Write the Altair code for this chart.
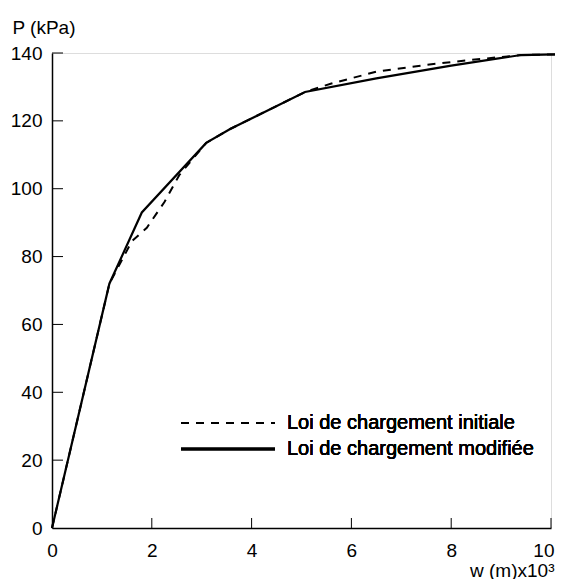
import altair as alt
import pandas as pd

# ---- data ----
series_names = ["Loi de chargement initiale", "Loi de chargement modifiée"]

w_initiale = [0, 1.15, 1.6, 1.9, 2.25, 2.55, 3.09, 3.57, 5.07, 5.6, 6.5, 7.5, 8.3, 9.4, 10.2]
p_initiale = [0, 72, 84.5, 88.5, 96, 104, 113.5, 117.6, 128.5, 131, 134.5, 136.5, 137.8, 139.4, 139.6]

w_modifiee = [0, 1.15, 1.8, 3.09, 3.57, 5.07, 6.5, 8.0, 9.4, 10.2]
p_modifiee = [0, 72, 93, 113.5, 117.6, 128.5, 132.5, 136.3, 139.4, 139.6]

x_ticks = [0, 2, 4, 6, 8, 10]
y_ticks = [0, 20, 40, 60, 80, 100, 120, 140]

x_title = "w (m)x10³"
y_title = "P (kPa)"

FONT = "Liberation Sans"
W, H = 499, 475

df_init = pd.DataFrame({"w": w_initiale, "P": p_initiale})
df_mod = pd.DataFrame({"w": w_modifiee, "P": p_modifiee})
df_xt = pd.DataFrame({"w": x_ticks[1:]})
df_yt = pd.DataFrame({"P": y_ticks[1:]})

xscale = alt.Scale(domain=[0, 10], nice=False, zero=False)
yscale = alt.Scale(domain=[0, 140], nice=False, zero=False)

last_x = "datum.value == 10"
xaxis = alt.Axis(
    values=x_ticks, ticks=False, tickSize=0, grid=False, title=x_title,
    labelFont=FONT, labelFontSize=19, labelColor="black", labelPadding=13,
    labelFlush=False,
    labelAlign={"condition": {"test": last_x, "value": "right"}, "value": "center"},
    labelOffset={"condition": {"test": last_x, "value": 3}, "value": 0},
    domainColor="black", domainWidth=1.5,
    titleFont=FONT, titleFontSize=19, titleFontWeight="normal", titleColor="black",
    titleAnchor="start", titleAlign="right", titleBaseline="alphabetic",
    titleX=502, titleY=48,
)
yaxis = alt.Axis(
    values=y_ticks, ticks=False, tickSize=0, grid=False, title=y_title,
    labelFont=FONT, labelFontSize=19, labelColor="black", labelPadding=10,
    labelFlush=False,
    domainColor="black", domainWidth=1.5,
    titleFont=FONT, titleFontSize=19, titleFontWeight="normal", titleColor="black",
    titleAngle=0, titleAlign="left", titleBaseline="alphabetic",
    titleAnchor="start", titleX=-40, titleY=-20,
)

line_mod = alt.Chart(df_mod).mark_line(color="black", strokeWidth=2.2).encode(
    x=alt.X("w:Q", scale=xscale, axis=xaxis),
    y=alt.Y("P:Q", scale=yscale, axis=yaxis),
)
line_init = alt.Chart(df_init).mark_line(color="black", strokeWidth=2, strokeDash=[8, 7]).encode(
    x=alt.X("w:Q", scale=xscale),
    y=alt.Y("P:Q", scale=yscale),
)

ytick = alt.Chart(df_yt).mark_rule(color="black", strokeWidth=1).encode(
    y=alt.Y("P:Q", scale=yscale), x=alt.value(0), x2=alt.value(11)
)
xtick = alt.Chart(df_xt).mark_rule(color="black", strokeWidth=1).encode(
    x=alt.X("w:Q", scale=xscale), y=alt.value(H), y2=alt.value(H - 10)
)

# legend (drawn manually inside the plot)
leg_y = [370, 396]
leg_dash = alt.Chart(df_xt).mark_rule(color="black", strokeWidth=2, strokeDash=[8, 7]).encode(
    x=alt.value(129), x2=alt.value(223), y=alt.value(leg_y[0])
)
leg_solid = alt.Chart(df_xt).mark_rule(color="black", strokeWidth=2.5).encode(
    x=alt.value(129), x2=alt.value(223), y=alt.value(leg_y[1])
)
leg_t1 = alt.Chart(df_xt).mark_text(
    text=series_names[0], font=FONT, fontSize=20, color="black", align="left", baseline="middle"
).encode(x=alt.value(235), y=alt.value(leg_y[0]))
leg_t2 = alt.Chart(df_xt).mark_text(
    text=series_names[1], font=FONT, fontSize=20, color="black", align="left", baseline="middle"
).encode(x=alt.value(235), y=alt.value(leg_y[1]))

chart = alt.layer(
    line_mod, line_init, ytick, xtick, leg_dash, leg_solid, leg_t1, leg_t2
).properties(
    width=W, height=H,
    autosize=alt.AutoSizeParams(type="none"),
    padding={"left": 44, "top": 45, "right": 4, "bottom": 51},
).configure_view(stroke=None).configure(background="white")

chart.save("out.html", embed_options={"renderer": "svg", "actions": False})
